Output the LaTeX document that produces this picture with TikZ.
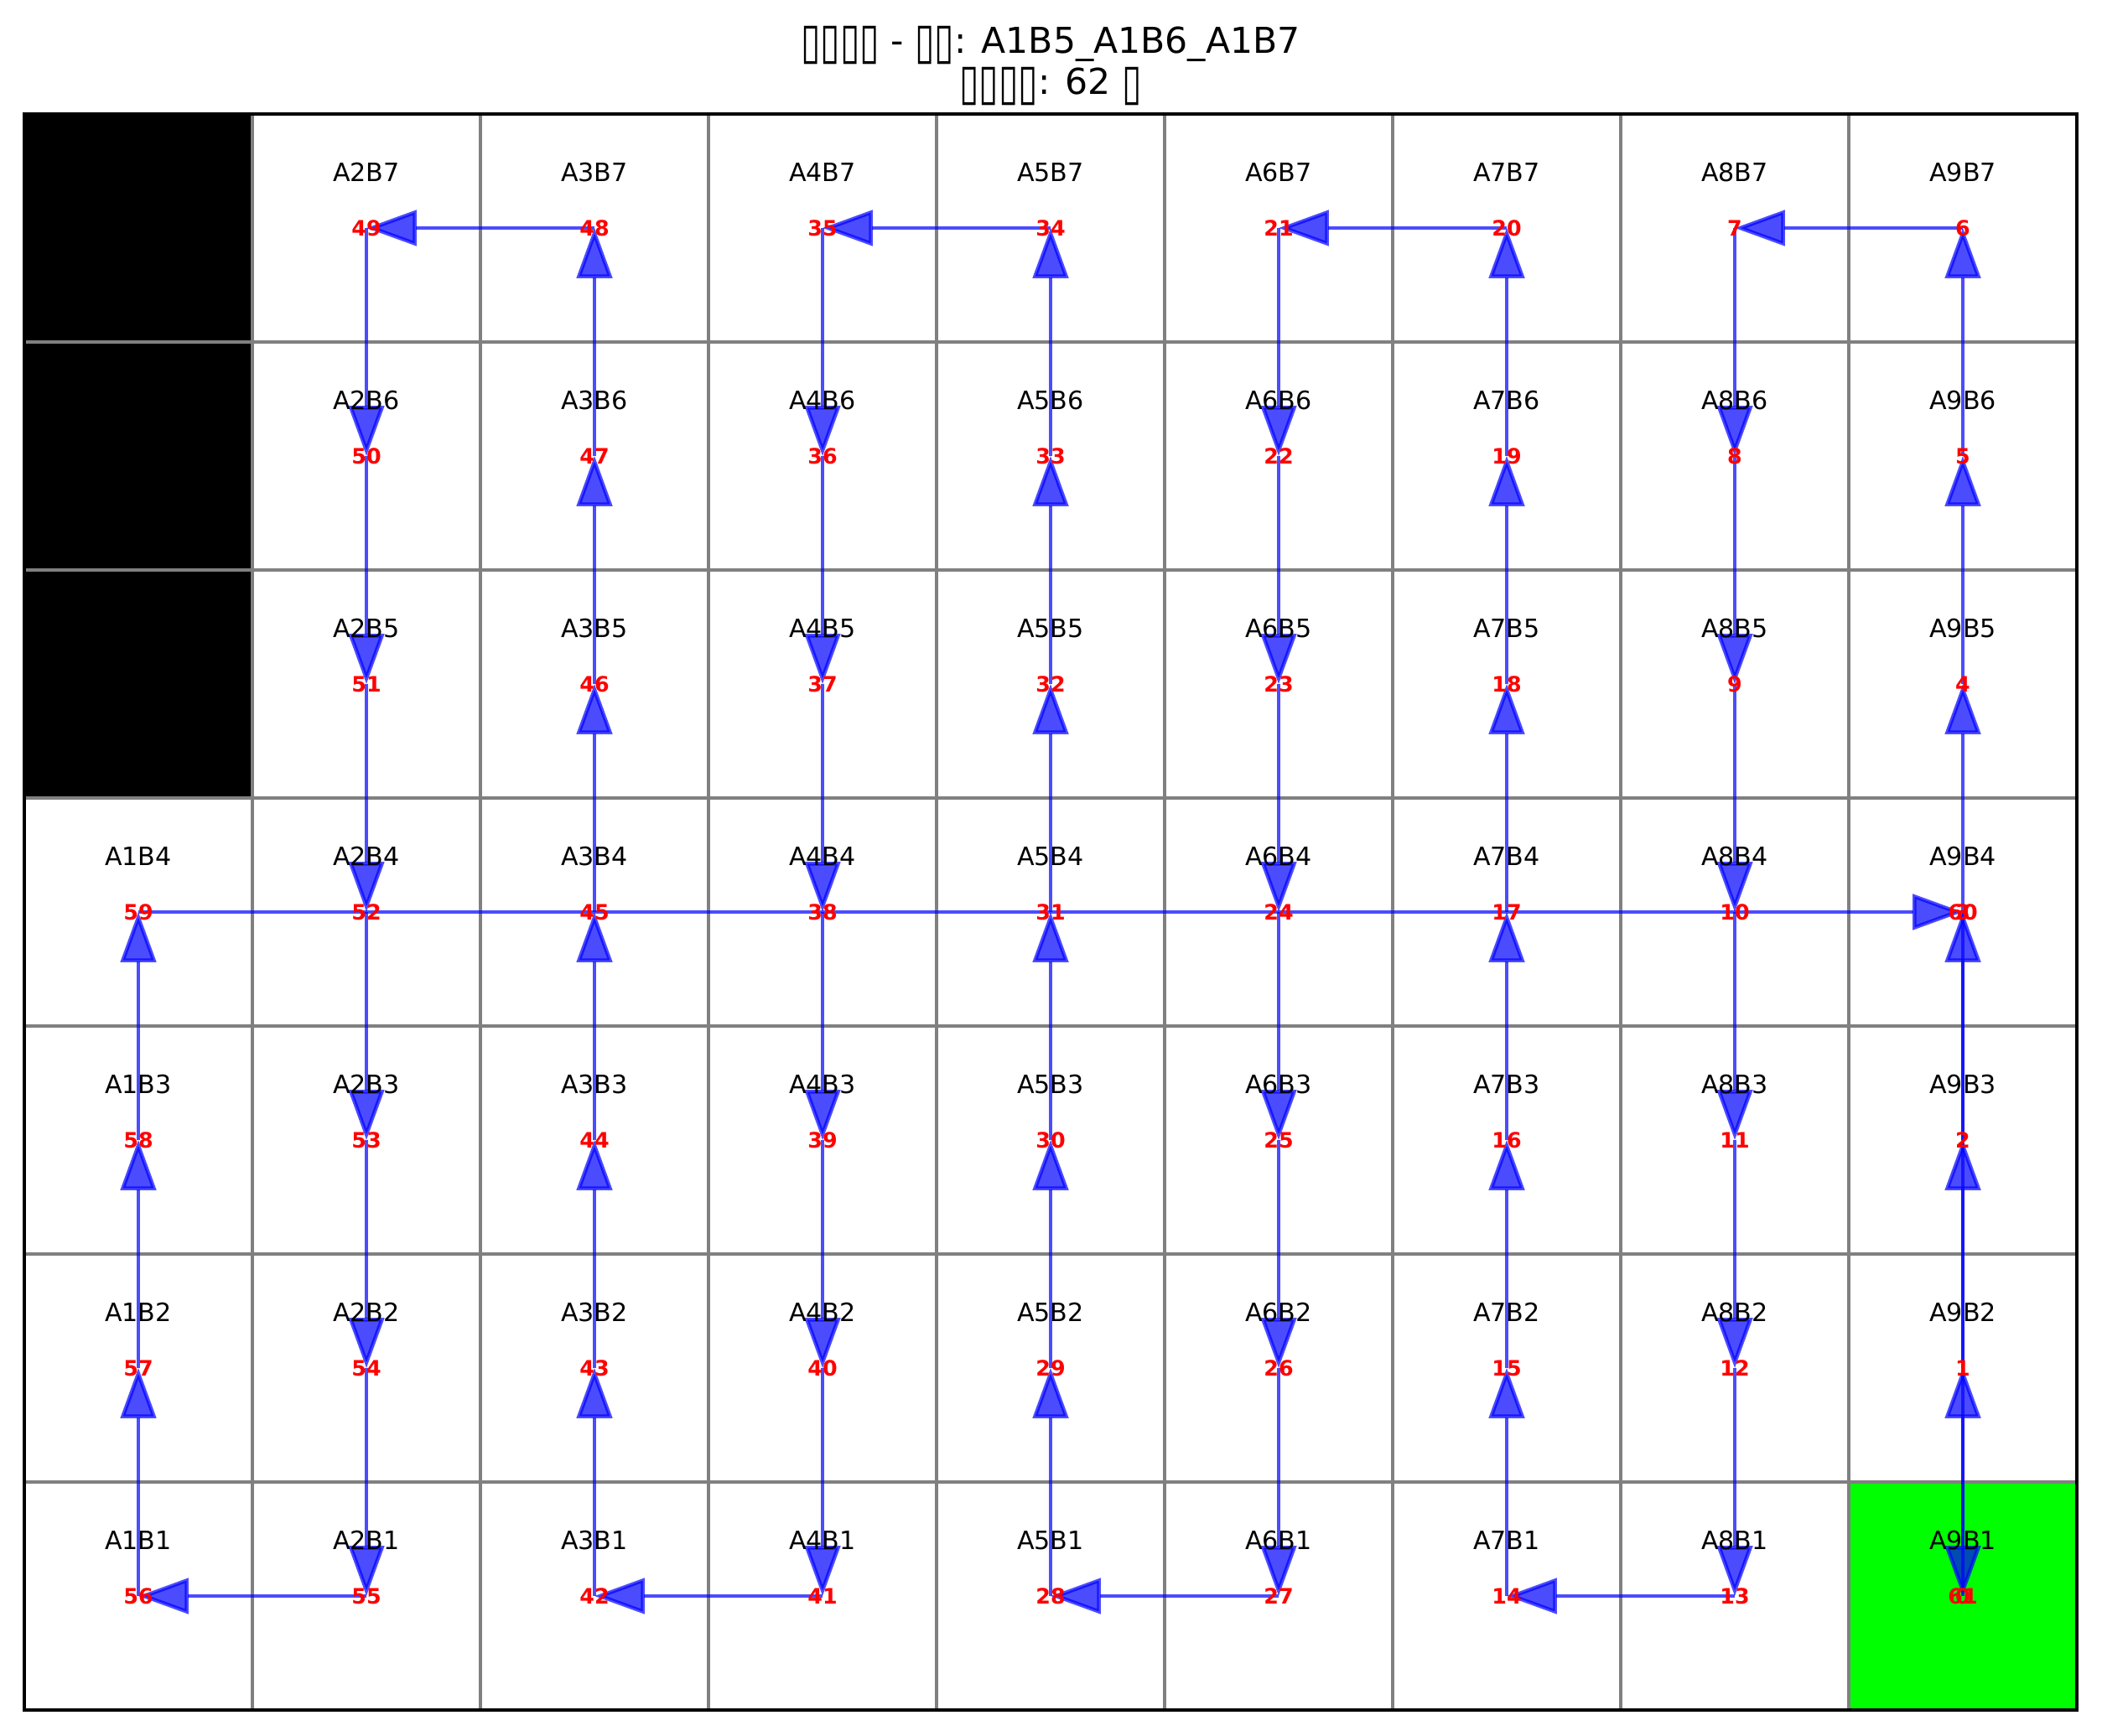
\documentclass[tikz,border=0pt]{standalone}
\usepackage{fontspec}
\usepackage{graphicx}
\setmainfont{DejaVu Sans}
\usetikzlibrary{arrows.meta}
\definecolor{gridgray}{RGB}{128,128,128}
\definecolor{goalgreen}{RGB}{0,255,0}
\newcommand{\tofu}{\raisebox{-0.14em}{\scalebox{1}[1.4]{▯}}}
% visiting order of the cells, step 0 first
\newcommand{\routecells}{A9B1,A9B2,A9B3,A9B4,A9B5,A9B6,A9B7,
  A8B7,A8B6,A8B5,A8B4,A8B3,A8B2,A8B1,
  A7B1,A7B2,A7B3,A7B4,A7B5,A7B6,A7B7,
  A6B7,A6B6,A6B5,A6B4,A6B3,A6B2,A6B1,
  A5B1,A5B2,A5B3,A5B4,A5B5,A5B6,A5B7,
  A4B7,A4B6,A4B5,A4B4,A4B3,A4B2,A4B1,
  A3B1,A3B2,A3B3,A3B4,A3B5,A3B6,A3B7,
  A2B7,A2B6,A2B5,A2B4,A2B3,A2B2,A2B1,
  A1B1,A1B2,A1B3,A1B4,A9B4,A9B1}

\begin{document}
\begin{tikzpicture}[x=2cm, y=2cm,
    cell/.style={draw=gridgray, line width=0.65pt, fill=white, minimum size=2cm, inner sep=0pt, outer sep=0pt},
    celltext/.style={font=\fontsize{6.3}{7.5}\selectfont, text=black},
    stepnum/.style={font=\fontsize{5.3}{6}\selectfont\bfseries, text=red},
    titletext/.style={anchor=base, inner sep=0pt, font=\fontsize{8.9}{10.7}\selectfont},
    steparrow/.style={blue, opacity=0.7, line width=0.95pt, line join=miter,
      -{Triangle[length=0.44cm, width=0.31cm]}}]
  \useasboundingbox (-0.1066,-0.1103) rectangle (9.1103,7.5);
  % Title, two lines
  \node[titletext] (title1) at (4.5,7.268) {\tofu\tofu\tofu\tofu{} - \tofu\tofu: A1B5\_A1B6\_A1B7};
  \node[titletext] (title2) at (4.5,7.085) {\tofu\tofu\tofu\tofu: 62 \tofu};
  % Grid cells A1B1 ... A9B7
  \foreach \x in {1,...,9}
    \foreach \y in {1,...,7}
      \node[cell] (A\x B\y) at (\x-0.5,\y-0.5) {};
  % Obstacles and goal
  \foreach \c in {A1B5,A1B6,A1B7}
    \draw[gridgray, line width=0.65pt, fill=black] (\c.south west) rectangle (\c.north east);
  \draw[gridgray, line width=0.65pt, fill=goalgreen] (A9B1.south west) rectangle (A9B1.north east);
  % Frame
  \draw[black, line width=0.8pt] (A1B1.south west) rectangle (A9B7.north east);
  % Route, one arrow per step
  \foreach \c [count=\n from 0, remember=\c as \prev (initially A9B1)] in \routecells {
    \ifnum\n>0
      \draw[steparrow] (\prev.center) -- (\c.center);
    \fi
  }
  % Cell names (not on obstacles)
  \foreach \x/\ymax in {1/4,2/7,3/7,4/7,5/7,6/7,7/7,8/7,9/7}
    \foreach \y in {1,...,\ymax}
      \node[celltext] (lab-A\x B\y) at ([yshift=0.49cm]A\x B\y.center) {A\x B\y};
  % Step numbers
  \foreach \c [count=\n from 0] in \routecells
    \node[stepnum] (s\n) at (\c.center) {\n};
\end{tikzpicture}
\end{document}
